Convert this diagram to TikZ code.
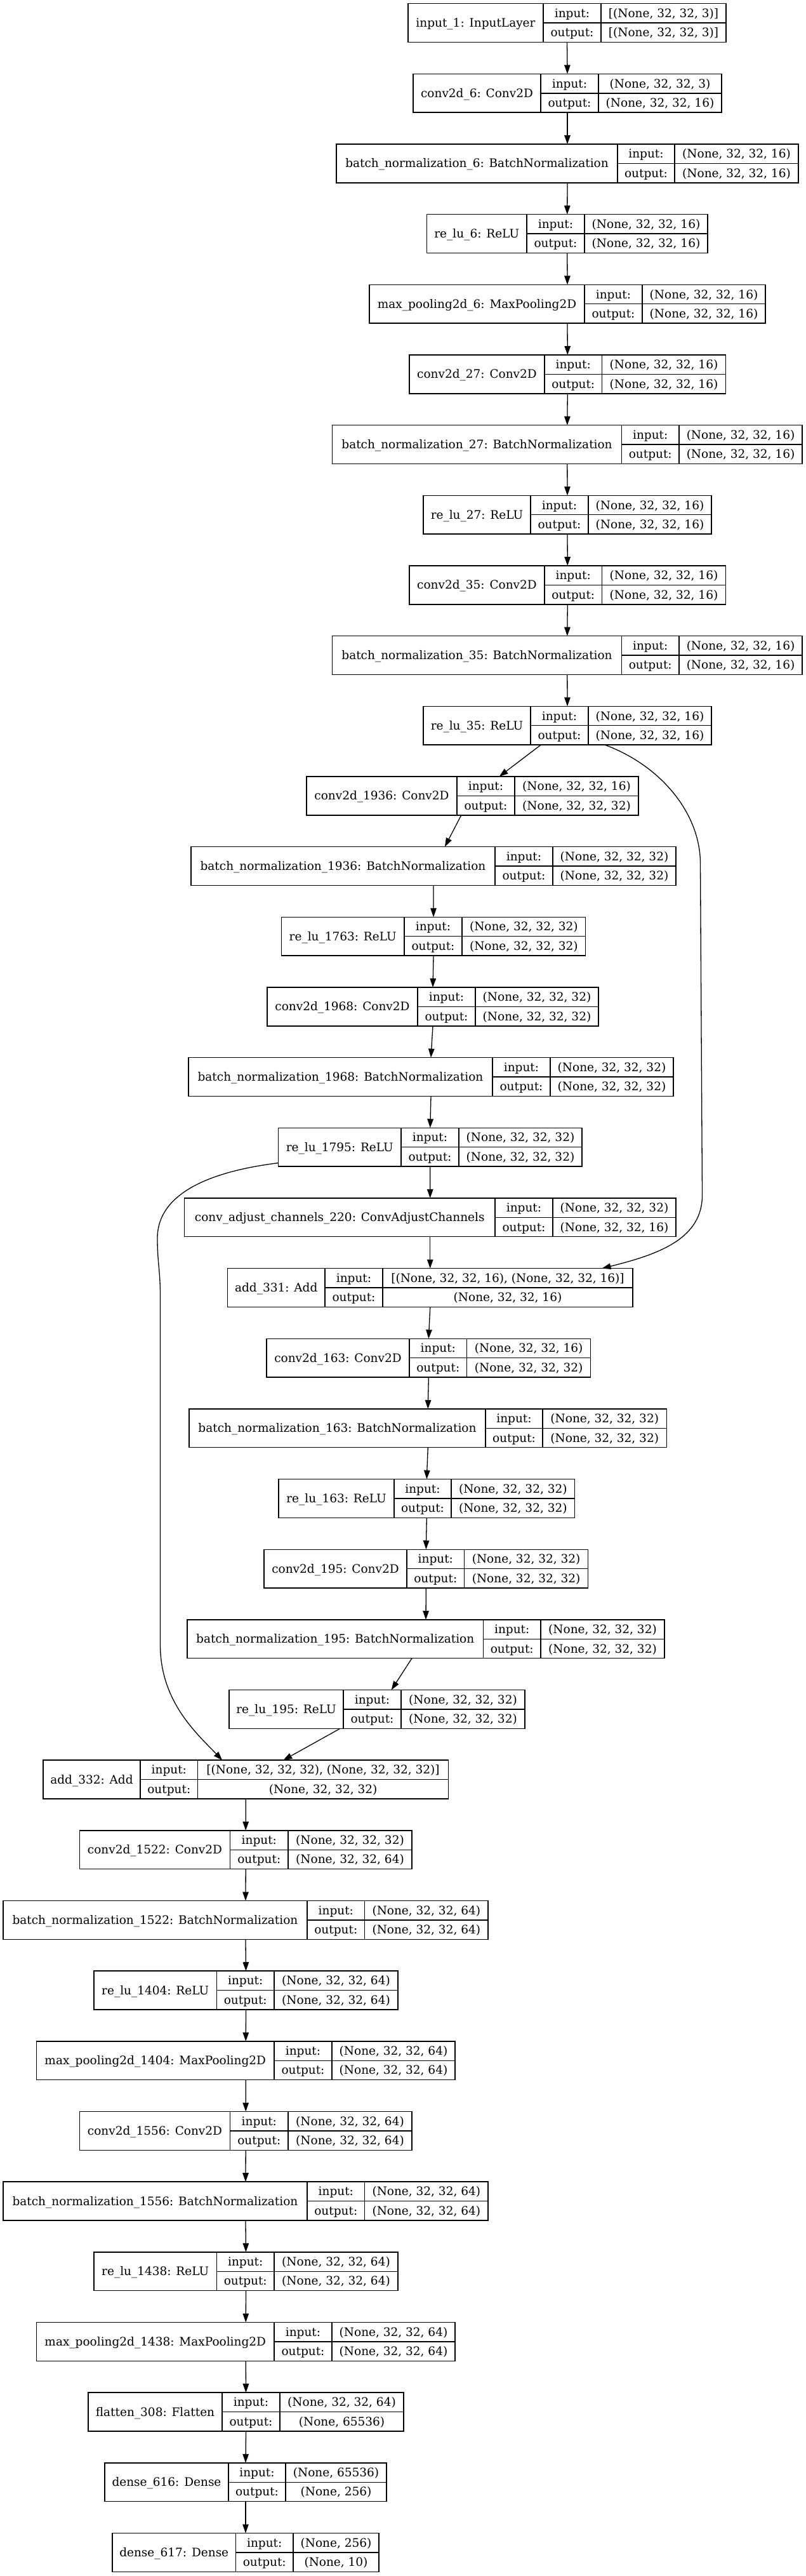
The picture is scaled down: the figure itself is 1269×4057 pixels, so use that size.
\documentclass[tikz,border=0pt]{standalone}
\usepackage{fontspec}
\setmainfont{DejaVu Serif}
\usetikzlibrary{arrows.meta,calc}
\newcommand\layer[9]{%
  \pgfmathsetmacro\lyT{5.7+(#2-1)*110.66}%
  \pgfmathsetmacro\lyB{\lyT+60.8}%
  \pgfmathsetmacro\lyM{\lyT+30.4}%
  \pgfmathsetmacro\lyW{#6-#3}%
  \node[frame, minimum width=\lyW pt, minimum height=60.8pt] (#1) at (#3,\lyT) {};
  \draw[cell] (#4,\lyT) -- (#4,\lyB) (#5,\lyT) -- (#5,\lyB) (#4,\lyM) -- (#6,\lyM);
  \node[txt] (#1-l) at ({(#3+#4)/2},\lyM) {#7};
  \node[txt] (#1-ik) at ({(#4+#5)/2},\lyT+15.2) {input:};
  \node[txt] (#1-ok) at ({(#4+#5)/2},\lyT+45.6) {output:};
  \node[txt] (#1-iv) at ({(#5+#6)/2},\lyT+15.2) {#8};
  \node[txt] (#1-ov) at ({(#5+#6)/2},\lyT+45.6) {#9};
}
\begin{document}
\begin{tikzpicture}[x=1pt,y=-1pt,
  frame/.style={draw=black, line width=1.5pt, inner sep=0pt, outer sep=0pt, anchor=north west},
  cell/.style={draw=black, line width=1.5pt},
  txt/.style={inner sep=0pt, font=\fontsize{18.5}{22}\selectfont, text height=13.5pt, text depth=0.5pt, anchor=center},
  edge/.style={draw=black, line width=1.3pt, -{Triangle[length=14pt,width=9.5pt]}}]
\useasboundingbox (0,0) rectangle (1269,4057);
\def\sA{(None, 32, 32, 16)}
\def\sB{(None, 32, 32, 32)}
\def\sC{(None, 32, 32, 64)}
\layer{n1}{1}{643}{856}{947}{1144}{input\_1: InputLayer}{[(None, 32, 32, 3)]}{[(None, 32, 32, 3)]}
\layer{n2}{2}{651}{852}{943}{1137}{conv2d\_6: Conv2D}{(None, 32, 32, 3)}{\sA}
\layer{n3}{3}{530}{973}{1063}{1258}{batch\_normalization\_6: BatchNormalization}{\sA}{\sA}
\layer{n4}{4}{672.5}{830}{921}{1115}{re\_lu\_6: ReLU}{\sA}{\sA}
\layer{n5}{5}{582}{921}{1012}{1206}{max\_pooling2d\_6: MaxPooling2D}{\sA}{\sA}
\layer{n6}{6}{645}{858}{948.5}{1143.5}{conv2d\_27: Conv2D}{\sA}{\sA}
\layer{n7}{7}{523.6}{979.5}{1070}{1264}{batch\_normalization\_27: BatchNormalization}{\sA}{\sA}
\layer{n8}{8}{667}{836}{927}{1121}{re\_lu\_27: ReLU}{\sA}{\sA}
\layer{n9}{9}{645}{858}{948.5}{1143.5}{conv2d\_35: Conv2D}{\sA}{\sA}
\layer{n10}{10}{523.6}{979.5}{1070}{1264}{batch\_normalization\_35: BatchNormalization}{\sA}{\sA}
\layer{n11}{11}{667}{836}{927}{1121}{re\_lu\_35: ReLU}{\sA}{\sA}
\layer{n12}{12}{483}{720}{811}{1006}{conv2d\_1936: Conv2D}{\sA}{\sB}
\layer{n13}{13}{301}{780}{871}{1065}{batch\_normalization\_1936: BatchNormalization}{\sB}{\sB}
\layer{n14}{14}{443.5}{637}{728}{922.6}{re\_lu\_1763: ReLU}{\sB}{\sB}
\layer{n15}{15}{421}{658}{749}{943}{conv2d\_1968: Conv2D}{\sB}{\sB}
\layer{n16}{16}{297}{776}{867}{1061}{batch\_normalization\_1968: BatchNormalization}{\sB}{\sB}
\layer{n17}{17}{438.6}{632}{723}{917}{re\_lu\_1795: ReLU}{\sB}{\sB}
\layer{n18}{18}{290.5}{780}{871}{1065}{conv\_adjust\_channels\_220: ConvAdjustChannels}{\sB}{\sA}
\layer{n19}{19}{358.5}{512}{603}{997}{add\_331: Add}{[(None, 32, 32, 16), (None, 32, 32, 16)]}{\sA}
\layer{n20}{20}{420}{645}{735.6}{930.7}{conv2d\_163: Conv2D}{\sA}{\sB}
\layer{n21}{21}{298}{765}{855}{1050.5}{batch\_normalization\_163: BatchNormalization}{\sB}{\sB}
\layer{n22}{22}{439}{621}{711}{905.6}{re\_lu\_163: ReLU}{\sB}{\sB}
\layer{n23}{23}{416}{641}{731.6}{926.6}{conv2d\_195: Conv2D}{\sB}{\sB}
\layer{n24}{24}{295}{761.5}{852}{1047}{batch\_normalization\_195: BatchNormalization}{\sB}{\sB}
\layer{n25}{25}{361}{541}{632}{827}{re\_lu\_195: ReLU}{\sB}{\sB}
\layer{n26}{26}{68}{221}{311.6}{706.5}{add\_332: Add}{[(None, 32, 32, 32), (None, 32, 32, 32)]}{\sB}
\layer{n27}{27}{125.4}{362.6}{454}{649}{conv2d\_1522: Conv2D}{\sB}{\sC}
\layer{n28}{28}{4.9}{484}{574.6}{769}{batch\_normalization\_1522: BatchNormalization}{\sC}{\sC}
\layer{n29}{29}{148}{341.5}{432}{627}{re\_lu\_1404: ReLU}{\sC}{\sC}
\layer{n30}{30}{57.5}{432}{523}{717}{max\_pooling2d\_1404: MaxPooling2D}{\sC}{\sC}
\layer{n31}{31}{125.4}{362.6}{454}{649}{conv2d\_1556: Conv2D}{\sC}{\sC}
\layer{n32}{32}{4.9}{484}{574.6}{769}{batch\_normalization\_1556: BatchNormalization}{\sC}{\sC}
\layer{n33}{33}{148}{341.5}{432}{627}{re\_lu\_1438: ReLU}{\sC}{\sC}
\layer{n34}{34}{57.5}{432}{523}{717}{max\_pooling2d\_1438: MaxPooling2D}{\sC}{\sC}
\layer{n35}{35}{139}{350}{441}{636}{flatten\_308: Flatten}{\sC}{(None, 65536)}
\layer{n36}{36}{165}{360}{450}{609}{dense\_616: Dense}{(None, 65536)}{(None, 256)}
\layer{n37}{37}{177}{371.5}{462}{597}{dense\_617: Dense}{(None, 256)}{(None, 10)}
% straight edges
\foreach \a/\b in {n1/n2,n2/n3,n3/n4,n4/n5,n5/n6,n6/n7,n7/n8,n8/n9,n9/n10,n10/n11,
  n13/n14,n14/n15,n15/n16,n16/n17,n17/n18,n18/n19,n19/n20,n20/n21,n21/n22,n22/n23,n23/n24,
  n26/n27,n27/n28,n28/n29,n29/n30,n30/n31,n31/n32,n32/n33,n33/n34,n34/n35,n35/n36,n36/n37}
  \draw[edge] (\a.south) -- (\b.north);
% slanted edges
\draw[edge] ([xshift=-41.8pt]n11.south) -- ([xshift=42.1pt]n12.north);
\draw[edge] ([xshift=-17.7pt]n12.south) -- ([xshift=17.9pt]n13.north);
\draw[edge] ([xshift=-22pt]n24.south) -- ([xshift=22.7pt]n25.north);
\draw[edge] ([xshift=-58.2pt]n25.south) -- ([xshift=59pt]n26.north);
% skip connections
\draw[edge] ([yshift=5.5pt]n17.south west) .. controls (330,1845) and (248,1880) .. (248,1950)
  .. controls (248,1990) and (252.5,2000) .. (252.5,2040) -- (252.5,2590)
  .. controls (252.5,2680) and (310,2730) .. ([xshift=-37pt]n26.north);
\draw[edge] ([xshift=59pt]n11.south) .. controls (1040,1205) and (1103.5,1280) .. (1103.5,1360)
  -- (1106.5,1880) .. controls (1108,1950) and (1040,1975) .. ([xshift=270.75pt]n19.north);
\end{tikzpicture}
\end{document}
